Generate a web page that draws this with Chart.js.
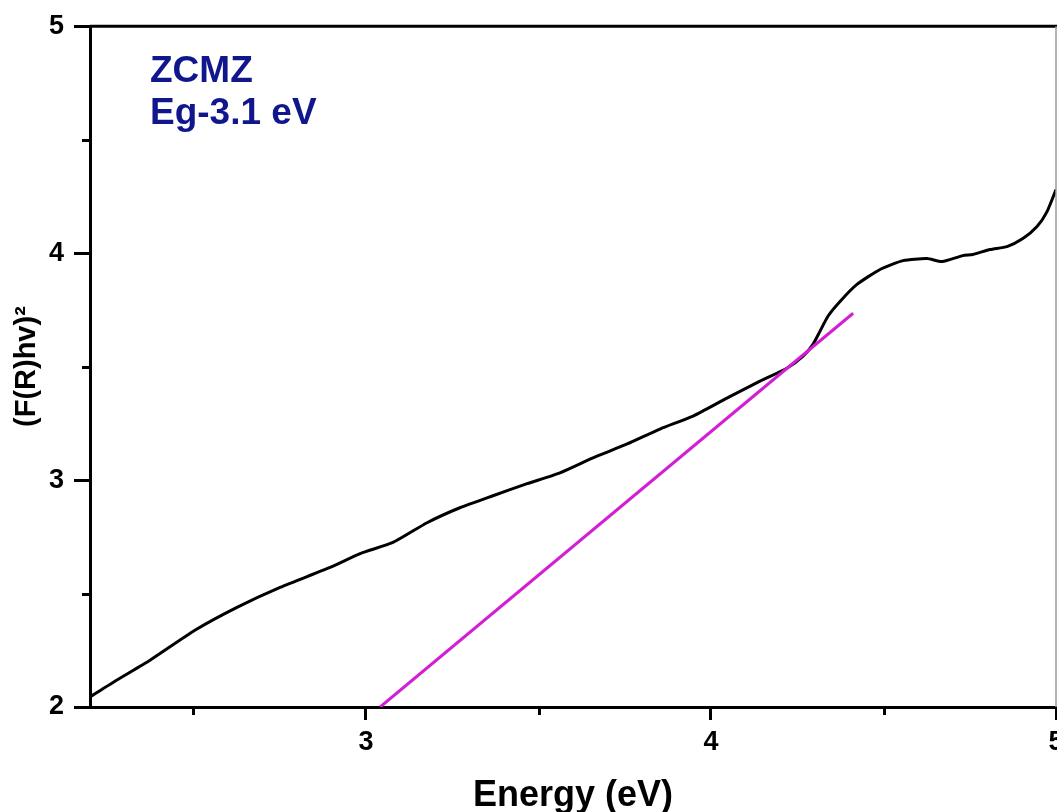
<!DOCTYPE html>
<html>
<head>
<meta charset="utf-8">
<script src="https://cdn.jsdelivr.net/npm/chart.js@4/dist/chart.umd.min.js"></script>
<style>
  html, body { margin: 0; padding: 0; background: #fff; overflow: hidden; }
  #wrap { width: 1100px; height: 818px; }
</style>
</head>
<body>
<div id="wrap"><canvas id="c" width="1100" height="818"></canvas></div>
<script>
// ---- data ----
const energy = [2.200, 2.278, 2.374, 2.504, 2.626, 2.751, 2.896, 2.983, 3.078, 3.177,
                3.272, 3.368, 3.467, 3.562, 3.658, 3.757, 3.852, 3.948, 4.046, 4.142,
                4.220, 4.267, 4.296, 4.316, 4.339, 4.374, 4.423, 4.490, 4.557, 4.626,
                4.670, 4.730, 4.759, 4.809, 4.858, 4.904, 4.945, 4.974, 5.000];
const frhv2 = [2.044, 2.119, 2.206, 2.338, 2.439, 2.527, 2.615, 2.676, 2.725, 2.812,
               2.878, 2.931, 2.984, 3.032, 3.098, 3.159, 3.225, 3.282, 3.361, 3.436,
               3.493, 3.546, 3.599, 3.656, 3.722, 3.787, 3.862, 3.928, 3.967, 3.976,
               3.963, 3.989, 3.994, 4.016, 4.029, 4.064, 4.117, 4.183, 4.280];
const fitX = [3.041, 4.412];
const fitY = [2.000, 3.735];
const xMajor = [3, 4, 5];
const xMinor = [2.5, 3.5, 4.5];
const yMajor = [2, 3, 4, 5];
const yMinor = [2.5, 3.5, 4.5];
const sampleName = 'ZCMZ';
const gapLabel = 'Eg-3.1 eV';
const xTitle = 'Energy (eV)';
const yTitle = '(F(R)hv)\u00B2';

const FONT = '"Liberation Sans", Arial, Helvetica, sans-serif';

const framePlugin = {
  id: 'frame',
  afterDraw(chart) {
    const { ctx, chartArea: a, scales: { x, y } } = chart;
    ctx.save();
    ctx.strokeStyle = '#000';
    ctx.lineWidth = 3;
    ctx.lineCap = 'butt';
    xMinor.forEach(v => {
      const px = Math.round(x.getPixelForValue(v)) + 0.5;
      ctx.beginPath(); ctx.moveTo(px, a.bottom); ctx.lineTo(px, a.bottom + 8); ctx.stroke();
    });
    yMinor.forEach(v => {
      const py = Math.round(y.getPixelForValue(v)) + 0.5;
      ctx.beginPath(); ctx.moveTo(a.left, py); ctx.lineTo(a.left - 8, py); ctx.stroke();
    });
    // top frame
    ctx.beginPath(); ctx.moveTo(a.left, a.top); ctx.lineTo(chart.width, a.top); ctx.stroke();
    // right frame (faint, cropped in reference)
    ctx.strokeStyle = '#9a9a9a'; ctx.lineWidth = 1.5;
    ctx.beginPath(); ctx.moveTo(a.right, a.top); ctx.lineTo(a.right, a.bottom); ctx.stroke();
    // annotation
    ctx.fillStyle = '#10178c';
    ctx.font = 'bold 37px ' + FONT;
    ctx.textBaseline = 'alphabetic';
    ctx.textAlign = 'left';
    ctx.fillText(sampleName, a.left + 60, a.top + 56);
    ctx.fillText(gapLabel, a.left + 60, a.top + 98);
    ctx.restore();
  }
};

const data = {
  datasets: [
    {
      label: 'fit',
      data: fitX.map((v, i) => ({ x: v, y: fitY[i] })),
      borderColor: '#d21fd2',
      borderWidth: 3,
      pointRadius: 0,
      order: 0
    },
    {
      label: sampleName,
      data: energy.map((v, i) => ({ x: v, y: frhv2[i] })),
      borderColor: '#000',
      borderWidth: 3,
      pointRadius: 0,
      tension: 0.2,
      order: 1
    }
  ]
};

new Chart(document.getElementById('c'), {
  type: 'line',
  data,
  plugins: [framePlugin],
  options: {
    responsive: false,
    animation: false,
    layout: { padding: { left: 0, top: 24, right: 44, bottom: 0 } },
    plugins: { legend: { display: false }, tooltip: { enabled: false } },
    scales: {
      x: {
        type: 'linear',
        min: 2.2,
        max: 5,
        afterBuildTicks: s => { s.ticks = xMajor.map(v => ({ value: v })); },
        afterFit: s => { s.height = 111; },
        ticks: {
          callback: v => String(v),
          color: '#000',
          padding: 6,
          maxRotation: 0,
          font: { family: FONT, weight: 'bold', size: 27 }
        },
        grid: { drawOnChartArea: false, drawTicks: true, tickLength: 13, tickWidth: 3, tickColor: '#000' },
        border: { display: true, color: '#000', width: 3 },
        title: {
          display: true, text: xTitle, color: '#000',
          padding: { top: 0, bottom: 0 },
          font: { family: FONT, weight: 'bold', size: 36 }
        }
      },
      y: {
        type: 'linear',
        min: 2,
        max: 5,
        afterBuildTicks: s => { s.ticks = yMajor.map(v => ({ value: v })); },
        afterFit: s => { s.width = 90; },
        ticks: {
          callback: v => String(v),
          color: '#000',
          padding: 10,
          font: { family: FONT, weight: 'bold', size: 27 }
        },
        grid: { drawOnChartArea: false, drawTicks: true, tickLength: 16, tickWidth: 3, tickColor: '#000' },
        border: { display: true, color: '#000', width: 3 },
        title: {
          display: true, text: yTitle, color: '#000',
          padding: { top: 10, bottom: 0 },
          font: { family: FONT, weight: 'bold', size: 29 }
        }
      }
    }
  }
});
</script>
</body>
</html>
